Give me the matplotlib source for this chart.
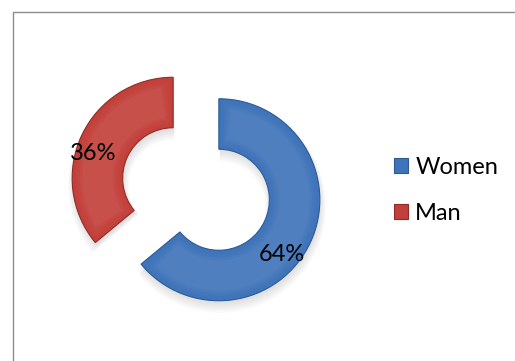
import math
import matplotlib.pyplot as plt
from matplotlib.patches import Wedge, Rectangle
import matplotlib.colors as mcolors

labels = ['Women', 'Man']
shares = [64, 36]
colors = ['#3f74ba', '#c3403a']
edge_colors = ['#2d5a95', '#8f2c28']
label_shift_deg = [-16, 8]   # nudge the percent labels along the ring

plt.rcParams['font.family'] = ['Lato', 'DejaVu Sans']

fig = plt.figure(figsize=(5.15, 3.61), dpi=100)
ax = fig.add_axes([0, 0, 1, 1])

wedges, texts, autotexts = ax.pie(
    shares, colors=colors, startangle=90, counterclock=False,
    explode=[0.25, 0.25], autopct='%1.0f%%', pctdistance=0.83,
    wedgeprops=dict(width=0.5, linewidth=0.8),
    textprops=dict(fontsize=17, color='black'))

for w, ec, base, t, shift in zip(wedges, edge_colors, colors, autotexts, label_shift_deg):
    w.set_edgecolor(ec)
    cx, cy = w.center
    # soft drop shadow below each ring segment
    for k in range(6):
        sh = Wedge((cx + 0.01, cy - 0.03 - 0.008 * k), w.r + 0.01 * k, w.theta1, w.theta2,
                   width=w.width + 0.02 * k, facecolor='black', edgecolor='none',
                   alpha=0.018, zorder=0)
        ax.add_patch(sh)
    # bevel: lighter bands towards the middle of the ring
    rgb = mcolors.to_rgb(base)
    for k in range(1, 5):
        inset = 0.025 * k
        mix = 0.04 * k
        c = tuple(v + (1 - v) * mix for v in rgb)
        ang = math.degrees(inset / (w.r - w.width / 2))
        band = Wedge((cx, cy), w.r - inset, w.theta1 + ang, w.theta2 - ang,
                     width=w.width - 2 * inset, facecolor=c, edgecolor='none',
                     alpha=0.3, zorder=w.get_zorder() + 0.1)
        ax.add_patch(band)
    # move the percent label a little around the segment centre
    tx, ty = t.get_position()
    a = math.atan2(ty - cy, tx - cx) + math.radians(shift)
    d = math.hypot(tx - cx, ty - cy)
    t.set_position((cx + d * math.cos(a), cy + d * math.sin(a)))
    t.set_zorder(5)

# map the axes so the ring sits left of centre
px = 101.0
cx0, cy0 = 196.0, 361 - 189.0
ax.set_xlim(-cx0 / px, (515 - cx0) / px)
ax.set_ylim(-cy0 / px, (361 - cy0) / px)
ax.set_aspect('auto')
ax.axis('off')

ax.legend(wedges, labels, loc='center left', bbox_to_anchor=(394 / 515, 170.5 / 361),
          bbox_transform=fig.transFigure, frameon=False, fontsize=17,
          handlelength=0.6, handleheight=0.6, handletextpad=0.3,
          labelspacing=1.07, borderpad=0, borderaxespad=0)

# chart area border
fig.patches.append(Rectangle((12.5 / 515, -0.1), 1.2, (361 - 11.5) / 361 + 0.1,
                             transform=fig.transFigure, fill=False,
                             edgecolor='#8c8c8c', linewidth=1.0))

fig.savefig('out.png', dpi=100)
